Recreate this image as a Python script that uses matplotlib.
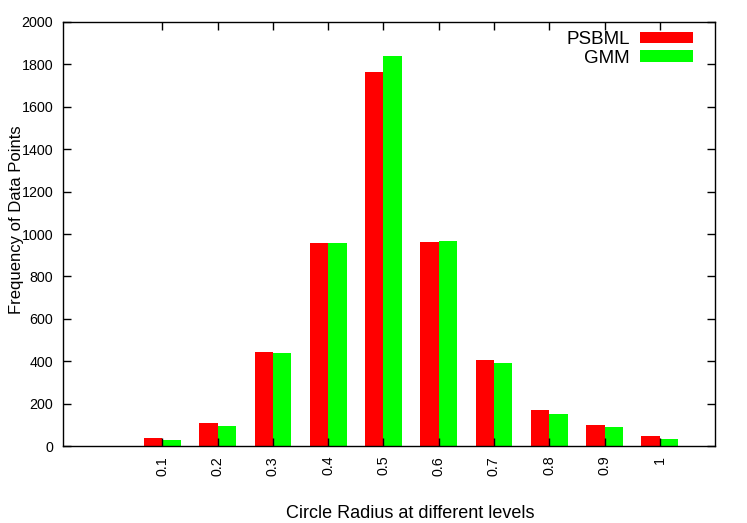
import matplotlib
matplotlib.use("Agg")
import matplotlib.pyplot as plt
import numpy as np

plt.rcParams['font.family'] = ['Liberation Sans', 'DejaVu Sans']
plt.rcParams['font.size'] = 10.3

# data
radius = ['0.1', '0.2', '0.3', '0.4', '0.5', '0.6', '0.7', '0.8', '0.9', '1']
psbml = [39, 109, 445, 958, 1765, 963, 408, 169, 100, 46]
gmm = [31, 97, 440, 958, 1838, 966, 393, 151, 88, 33]

fig = plt.figure(figsize=(7.47, 5.23), dpi=100)
ax = fig.add_axes([0.0843, 0.147, 0.8729, 0.811])

x = np.arange(len(radius))
w = 1 / 3
ax.bar(x - w / 2, psbml, w, color='#ff0000', label='PSBML')
ax.bar(x + w / 2, gmm, w, color='#00ff00', label='GMM')

ax.set_xlim(-1.8, 10)
ax.set_ylim(0, 2000)
ax.set_yticks(np.arange(0, 2001, 200))
ax.set_xticks(x)
ax.set_xticklabels(radius, rotation=90)
ax.tick_params(direction='in', top=True, right=True, length=6, width=1, pad=7)
for s in ax.spines.values():
    s.set_linewidth(1)

ax.set_xlabel('Circle Radius at different levels', fontsize=13, va='center')
ax.xaxis.set_label_coords(0.532, -0.158)
ax.set_ylabel('Frequency of Data Points', fontsize=12, va='center')
ax.yaxis.set_label_coords(-0.071, 0.533)

ax.legend(loc='upper right', bbox_to_anchor=(0.966, 0.979), frameon=False,
          markerfirst=False, handlelength=2.8, handleheight=0.55,
          handletextpad=0.55, labelspacing=0.1, borderaxespad=0.0,
          borderpad=0.0, fontsize=13.5)

fig.savefig('out.png', dpi=100)
